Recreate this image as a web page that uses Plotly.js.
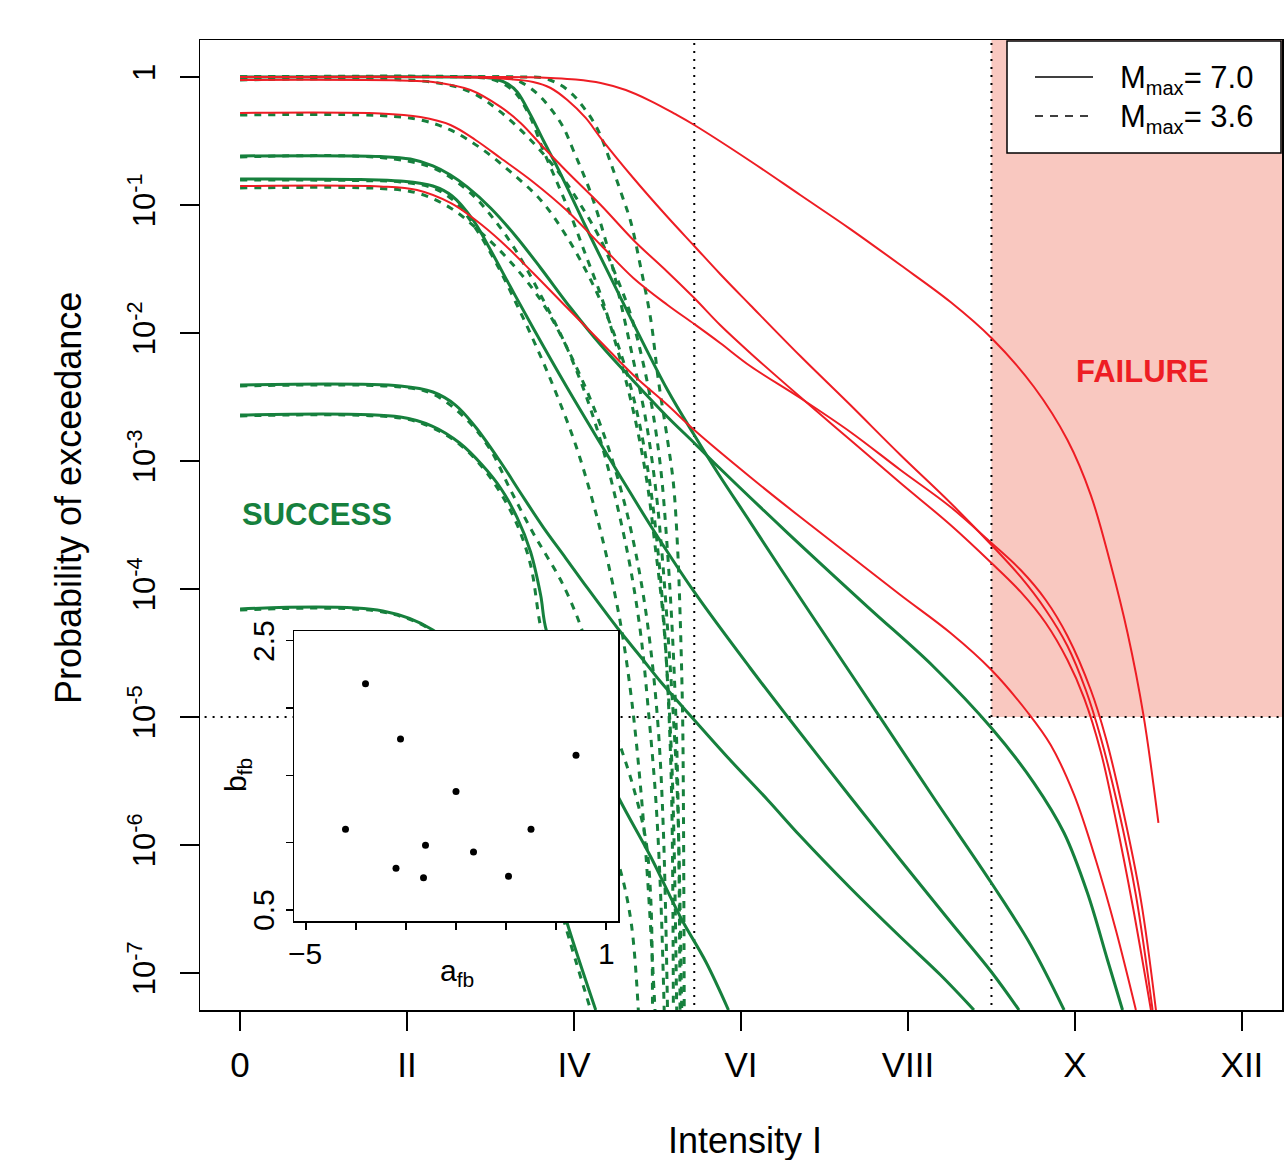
<!DOCTYPE html>
<html><head><meta charset="utf-8">
<script src="https://cdn.plot.ly/plotly-3.0.1.min.js"></script>
<style>body{margin:0;background:#fff}#chart{width:1284px;height:1160px}</style>
</head><body><div id="chart"></div>
<script>
// ---------- x ticks (Intensity, roman) ----------
const xTickVals = [0, 2, 4, 6, 8, 10, 12];
const xTickText = ['0', 'II', 'IV', 'VI', 'VIII', 'X', 'XII'];
const yTickExp = [-7, -6, -5, -4, -3, -2, -1, 0];

// ---------- reference lines ----------
const I_max36 = 5.44;   // dotted vertical (max intensity for Mmax 3.6)
const I_fail = 9.0;     // dotted vertical (failure intensity)
const P_fail = 1e-5;    // dotted horizontal (failure probability)

// ---------- Mmax = 7.0, failing (red) : intensity / log10 probability ----------
const ra_I = [0, 3.12, 3.48, 3.72, 4.02, 4.32, 4.62, 4.92, 5.21, 5.44, 6.11, 6.71, 7.31, 7.91, 8.51, 9.00, 9.51, 9.91, 10.19, 10.43, 10.63, 10.82, 11.00];
const ra_P = [0, 0, -0.002, -0.008, -0.020, -0.047, -0.102, -0.188, -0.289, -0.375, -0.656, -0.922, -1.188, -1.469, -1.758, -2.039, -2.422, -2.836, -3.266, -3.813, -4.344, -4.984, -5.828];
const rb_I = [0, 2.52, 3.12, 3.51, 3.72, 3.92, 4.14, 4.32, 4.71, 5.12, 5.44, 5.75, 6.11, 6.71, 7.31, 7.91, 8.51, 9.00, 9.35, 9.65, 9.91, 10.13, 10.31, 10.51, 10.73, 10.93];
const rb_P = [0, 0, -0.012, -0.039, -0.086, -0.180, -0.320, -0.477, -0.789, -1.094, -1.320, -1.539, -1.781, -2.180, -2.563, -2.953, -3.328, -3.656, -3.906, -4.164, -4.445, -4.789, -5.164, -5.688, -6.391, -7.289];
const rc_I = [0, 1.92, 2.31, 2.76, 3.12, 3.36, 3.63, 3.92, 4.32, 4.71, 5.12, 5.44, 5.75, 6.11, 6.71, 7.31, 7.91, 8.51, 9.00, 9.35, 9.65, 9.91, 10.11, 10.31, 10.49, 10.69, 10.91];
const rc_P = [-0.023, -0.027, -0.039, -0.102, -0.234, -0.359, -0.547, -0.742, -1.0, -1.273, -1.523, -1.727, -1.938, -2.156, -2.5, -2.836, -3.172, -3.5, -3.797, -4.023, -4.266, -4.555, -4.852, -5.273, -5.805, -6.469, -7.289];
const rd_I = [0, 1.68, 2.16, 2.52, 2.82, 3.12, 3.51, 3.92, 4.32, 4.71, 5.12, 5.44, 5.75, 6.11, 6.71, 7.31, 7.91, 8.51, 9.00, 9.35, 9.65, 9.91, 10.19, 10.37, 10.57, 10.79, 10.97];
const rd_P = [-0.281, -0.285, -0.313, -0.375, -0.492, -0.633, -0.820, -1.047, -1.313, -1.570, -1.781, -1.930, -2.078, -2.258, -2.508, -2.773, -3.070, -3.359, -3.641, -3.852, -4.086, -4.367, -4.789, -5.164, -5.711, -6.430, -7.289];
const re_I = [0, 1.68, 2.12, 2.52, 2.82, 3.12, 3.51, 3.92, 4.32, 4.71, 5.12, 5.44, 6.11, 6.71, 7.31, 7.91, 8.51, 9.00, 9.43, 9.71, 9.99, 10.25, 10.49, 10.73];
const re_P = [-0.852, -0.855, -0.883, -0.984, -1.117, -1.281, -1.531, -1.805, -2.070, -2.328, -2.563, -2.758, -3.125, -3.438, -3.742, -4.047, -4.344, -4.633, -4.961, -5.219, -5.609, -6.117, -6.664, -7.289];

// ---------- Mmax = 7.0, succeeding (green solid) ----------
const g1_I = [0, 2.76, 2.94, 3.08, 3.21, 3.32, 3.48, 3.63, 3.78, 3.92, 4.20, 4.50, 4.75, 5.12, 5.44, 5.73, 6.11, 6.47, 7.11, 7.64, 8.31, 9.00, 9.47, 9.87];
const g1_P = [0, 0, -0.004, -0.020, -0.055, -0.117, -0.297, -0.492, -0.680, -0.867, -1.250, -1.648, -1.977, -2.445, -2.797, -3.102, -3.477, -3.836, -4.461, -4.977, -5.633, -6.297, -6.781, -7.289];
const g2_I = [0, 1.68, 2.04, 2.31, 2.52, 2.72, 3.00, 3.30, 3.60, 3.96, 4.32, 4.68, 5.12, 5.44, 5.73, 6.56, 7.52, 8.31, 9.00, 9.51, 9.87, 10.15, 10.39, 10.57];
const g2_P = [-0.617, -0.621, -0.641, -0.695, -0.766, -0.859, -1.023, -1.242, -1.492, -1.805, -2.094, -2.352, -2.656, -2.859, -3.047, -3.563, -4.141, -4.609, -5.086, -5.516, -5.906, -6.375, -6.898, -7.289];
const g3_I = [0, 1.44, 1.92, 2.31, 2.54, 2.79, 3.00, 3.24, 3.51, 3.92, 4.32, 4.64, 4.95, 5.44, 6.11, 6.56, 7.31, 7.91, 8.51, 9.00, 9.33];
const g3_P = [-0.797, -0.801, -0.813, -0.852, -0.930, -1.117, -1.352, -1.641, -1.961, -2.430, -2.867, -3.211, -3.539, -4.023, -4.617, -5.0, -5.625, -6.117, -6.602, -6.992, -7.289];
const g4_I = [0, 1.92, 2.31, 2.58, 2.82, 3.12, 3.36, 3.63, 3.90, 4.16, 4.52, 4.80, 5.04, 5.44, 5.87, 6.32, 6.71, 7.31, 7.91, 8.39, 8.79];
const g4_P = [-2.406, -2.414, -2.461, -2.563, -2.734, -3.008, -3.250, -3.516, -3.758, -3.992, -4.305, -4.531, -4.727, -5.023, -5.336, -5.648, -5.930, -6.336, -6.719, -7.016, -7.289];
const g5_I = [0, 1.92, 2.30, 2.63, 2.90, 3.12, 3.32, 3.48, 3.60, 3.67, 4.08, 4.53, 4.92, 5.28, 5.58, 5.85];
const g5_P = [-2.641, -2.656, -2.727, -2.859, -3.031, -3.211, -3.445, -3.711, -4.047, -4.328, -5.008, -5.625, -6.094, -6.570, -6.914, -7.289];
const g6_I = [0, 1.71, 2.31, 2.76, 3.18, 3.60, 3.91, 4.26];
const g6_P = [-4.156, -4.172, -4.320, -4.594, -5.102, -5.883, -6.594, -7.289];

// ---------- Mmax = 3.6 (green dashed), one per parameter set ----------
const rad_I = [0, 3.36, 3.63, 3.84, 3.99, 4.11, 4.22, 4.32, 4.44, 4.56, 4.68, 4.80, 4.92, 5.01, 5.12, 5.19, 5.24, 5.27, 5.30, 5.31, 5.32];
const rad_P = [0, 0, -0.008, -0.063, -0.141, -0.234, -0.336, -0.461, -0.672, -0.898, -1.133, -1.492, -1.898, -2.367, -2.836, -3.172, -3.672, -4.188, -4.969, -5.648, -7.289];
const rbd_I = [0, 2.88, 3.24, 3.44, 3.60, 3.75, 3.87, 3.99, 4.20, 4.40, 4.56, 4.71, 4.86, 4.98, 5.06, 5.13, 5.19, 5.24, 5.29];
const rbd_P = [0, 0, -0.008, -0.070, -0.156, -0.273, -0.391, -0.570, -0.906, -1.328, -1.766, -2.211, -2.680, -3.227, -3.773, -4.398, -5.0, -5.648, -7.289];
const rcd_I = [0, 2.28, 2.76, 3.12, 3.48, 3.84, 4.08, 4.32, 4.50, 4.68, 4.82, 4.94, 5.04, 5.11, 5.17, 5.22, 5.25, 5.27];
const rcd_P = [-0.023, -0.039, -0.117, -0.273, -0.492, -0.766, -1.0, -1.273, -1.547, -1.859, -2.211, -2.602, -3.070, -3.617, -4.242, -5.0, -5.805, -7.289];
const rdd_I = [0, 1.68, 2.16, 2.52, 2.88, 3.24, 3.60, 3.90, 4.20, 4.44, 4.64, 4.80, 4.92, 5.01, 5.08, 5.13, 5.17, 5.19];
const rdd_P = [-0.297, -0.301, -0.336, -0.414, -0.555, -0.742, -0.961, -1.234, -1.586, -1.938, -2.328, -2.758, -3.227, -3.734, -4.281, -4.867, -5.648, -7.289];
const red_I = [0, 1.68, 2.12, 2.52, 2.88, 3.24, 3.60, 3.90, 4.20, 4.44, 4.64, 4.80, 4.92, 5.01, 5.07, 5.12];
const red_P = [-0.867, -0.871, -0.906, -1.023, -1.211, -1.445, -1.742, -2.094, -2.523, -2.953, -3.422, -3.930, -4.477, -5.102, -5.883, -7.289];
const g1d_I = [0, 2.76, 3.00, 3.18, 3.32, 3.48, 3.63, 3.80, 3.96, 4.14, 4.32, 4.47, 4.62, 4.76, 4.88, 4.97, 5.06, 5.12, 5.17, 5.20, 5.23];
const g1d_P = [0, 0, -0.016, -0.063, -0.141, -0.320, -0.570, -0.828, -1.078, -1.391, -1.703, -2.016, -2.367, -2.758, -3.188, -3.656, -4.164, -4.711, -5.336, -6.039, -7.289];
const g2d_I = [0, 1.68, 2.31, 2.72, 3.00, 3.30, 3.60, 3.90, 4.14, 4.35, 4.53, 4.68, 4.80, 4.89, 4.98, 5.04, 5.08];
const g2d_P = [-0.625, -0.629, -0.711, -0.883, -1.078, -1.352, -1.703, -2.094, -2.484, -2.914, -3.383, -3.852, -4.359, -4.945, -5.648, -6.430, -7.289];
const g3d_I = [0, 1.44, 1.92, 2.31, 2.58, 2.82, 3.06, 3.30, 3.54, 3.78, 4.02, 4.22, 4.40, 4.56, 4.69, 4.80, 4.89, 4.97];
const g3d_P = [-0.805, -0.809, -0.820, -0.867, -0.977, -1.180, -1.445, -1.758, -2.094, -2.461, -2.875, -3.305, -3.773, -4.281, -4.867, -5.570, -6.352, -7.289];
const g4d_I = [0, 1.92, 2.31, 2.72, 3.00, 3.24, 3.51, 3.68, 3.84, 3.99, 4.10, 4.32, 4.53, 4.71, 4.86, 4.92, 4.94];
const g4d_P = [-2.414, -2.422, -2.477, -2.680, -2.914, -3.227, -3.563, -3.750, -3.930, -4.141, -4.328, -4.789, -5.180, -5.547, -5.961, -6.430, -7.289];
const g5d_I = [0, 1.92, 2.31, 2.64, 2.91, 3.12, 3.32, 3.48, 3.61, 3.84, 4.20, 4.53, 4.68, 4.77];
const g5d_P = [-2.648, -2.664, -2.742, -2.875, -3.055, -3.25, -3.5, -3.813, -4.328, -4.867, -5.570, -6.141, -6.586, -7.289];
const g6d_I = [0, 1.71, 2.31, 2.76, 3.18, 3.60, 3.88, 4.20];
const g6d_P = [-4.164, -4.180, -4.328, -4.617, -5.141, -5.922, -6.594, -7.289];

// ---------- inset: fragility-curve parameters ----------
const a_fb = [-3.81, -3.11, 0.40, -2.00, -4.21, -0.50, -2.61, -1.65, -3.20, -2.65, -0.95];
const b_fb = [2.18, 1.77, 1.65, 1.38, 1.10, 1.10, 0.98, 0.93, 0.81, 0.74, 0.75];
const insetXTicks = [-5, -4, -3, -2, -1, 0, 1];
const insetYTicks = [0.5, 1.0, 1.5, 2.0, 2.5];
const insetXLabels = ['\u22125', '1'];      // labelled ticks -5 and 1
const insetYLabels = ['0.5', '2.5'];        // labelled ticks 0.5 and 2.5

// ---------- styles ----------
const RED = '#EE1D24', GREEN = '#16803D', PINK = '#F9C8C0';
const FONT = 'Liberation Sans, Arial, Helvetica, sans-serif';

const toP = arr => arr.map(v => Math.pow(10, v));
function curve(I, P, color, width, dash) {
  return {x: I, y: toP(P), type: 'scatter', mode: 'lines', xaxis: 'x', yaxis: 'y', hoverinfo: 'skip',
          line: {color: color, width: width, dash: dash, shape: 'spline', smoothing: 1}};
}
const DASH = '7px,7px';
const traces = [];
const DOT = {color: '#000', width: 2, dash: '2px,6px'};
traces.push({x: [I_max36, I_max36], y: [1e-8, 10], mode: 'lines', line: DOT, hoverinfo: 'skip'});
traces.push({x: [I_fail, I_fail], y: [1e-8, 10], mode: 'lines', line: DOT, hoverinfo: 'skip'});
traces.push({x: [-1, 13], y: [P_fail, P_fail], mode: 'lines', line: DOT, hoverinfo: 'skip'});
[[rad_I, rad_P], [rbd_I, rbd_P], [rcd_I, rcd_P], [rdd_I, rdd_P], [red_I, red_P],
 [g1d_I, g1d_P], [g2d_I, g2d_P], [g3d_I, g3d_P], [g4d_I, g4d_P], [g5d_I, g5d_P], [g6d_I, g6d_P]]
  .forEach(c => traces.push(curve(c[0], c[1], GREEN, 3, DASH)));
[[g1_I, g1_P], [g2_I, g2_P], [g3_I, g3_P], [g4_I, g4_P], [g5_I, g5_P], [g6_I, g6_P]]
  .forEach(c => traces.push(curve(c[0], c[1], GREEN, 3, 'solid')));
[[ra_I, ra_P], [rb_I, rb_P], [rc_I, rc_P], [rd_I, rd_P], [re_I, re_P]]
  .forEach(c => traces.push(curve(c[0], c[1], RED, 2, 'solid')));
traces.push({x: a_fb, y: b_fb, xaxis: 'x2', yaxis: 'y2', type: 'scatter', mode: 'markers',
             marker: {color: '#000', size: 7}, hoverinfo: 'skip'});

// pixel -> paper helpers for decorations (plot area 200..1282 x 40..1010)
const X = px => (px - 200) / 1082;
const Y = py => (1010 - py) / 970;

const ann = (text, px, py, size, extra) => Object.assign({
  text: text, xref: 'paper', yref: 'paper', x: X(px), y: Y(py), xanchor: 'center', yanchor: 'middle',
  showarrow: false, font: {family: FONT, size: size, color: '#000'}}, extra || {});

const SUBMAX = 'M<sub><span style="font-size:20px">max</span></sub>= ';

const layout = {
  width: 1284, height: 1160,
  margin: {l: 200, r: 2, t: 40, b: 150, pad: 0},
  paper_bgcolor: '#fff', plot_bgcolor: '#fff',
  showlegend: false,
  font: {family: FONT, color: '#000'},
  xaxis: {range: [-0.48, 12.48], tickvals: xTickVals, ticktext: xTickText, ticks: 'outside', ticklen: 19,
          tickwidth: 1.5, tickcolor: '#000', showline: true, mirror: true, linewidth: 1.5, linecolor: '#000',
          showgrid: false, zeroline: false, tickfont: {size: 35, family: FONT}, ticklabelstandoff: 4},
  yaxis: {type: 'log', range: [-7.289, 0.289], tickvals: yTickExp.map(e => Math.pow(10, e)),
          ticktext: yTickExp.map(e => e === 0 ? '1' : '10<sup>' + e + '</sup>'), tickangle: -90,
          ticks: 'outside', ticklen: 19, tickwidth: 1.5, tickcolor: '#000', showline: true, mirror: true,
          linewidth: 1.5, linecolor: '#000', showgrid: false, zeroline: false,
          tickfont: {size: 31, family: FONT}, ticklabelstandoff: 12},
  xaxis2: {domain: [X(294), X(618)], anchor: 'y2', range: [-5.24, 1.24], tickvals: insetXTicks,
           showticklabels: false, ticks: 'outside', ticklen: 7, tickwidth: 1.5, tickcolor: '#000',
           showline: true, mirror: true, linewidth: 1.5, linecolor: '#000', showgrid: false, zeroline: false},
  yaxis2: {domain: [Y(921), Y(631)], anchor: 'x2', range: [0.418, 2.572], tickvals: insetYTicks,
           showticklabels: false, ticks: 'outside', ticklen: 7, tickwidth: 1.5, tickcolor: '#000',
           showline: true, mirror: true, linewidth: 1.5, linecolor: '#000', showgrid: false, zeroline: false},
  shapes: [
    {type: 'rect', xref: 'x', yref: 'y', x0: I_fail, x1: 13, y0: P_fail, y1: 10, fillcolor: PINK,
     line: {width: 0}, layer: 'below'},
    {type: 'rect', xref: 'paper', yref: 'paper', x0: X(1007), x1: X(1281), y0: Y(153), y1: Y(41),
     fillcolor: '#fff', line: {color: '#000', width: 1.5}, layer: 'above'},
    {type: 'line', xref: 'paper', yref: 'paper', x0: X(1035), x1: X(1093), y0: Y(77), y1: Y(77),
     line: {color: '#000', width: 1.5}, layer: 'above'},
    {type: 'line', xref: 'paper', yref: 'paper', x0: X(1035), x1: X(1093), y0: Y(116), y1: Y(116),
     line: {color: '#000', width: 1.5, dash: '8px,7px'}, layer: 'above'}
  ],
  annotations: [
    ann('Intensity I', 745, 1140, 36),
    ann('Probability of exceedance', 68, 498, 36, {textangle: -90}),
    ann('<b>SUCCESS</b>', 317, 514, 31, {font: {family: FONT, size: 31, color: GREEN}}),
    ann('<b>FAILURE</b>', 1142, 371, 31, {font: {family: FONT, size: 31, color: RED}}),
    ann(insetXLabels[0], 305, 953, 30),
    ann(insetXLabels[1], 606, 953, 30),
    ann(insetYLabels[0], 263, 910, 30, {textangle: -90}),
    ann(insetYLabels[1], 263, 641, 30, {textangle: -90}),
    ann('a<sub>fb</sub>', 457, 972, 30),
    ann('b<sub>fb</sub>', 237, 775, 30, {textangle: -90}),
    ann(SUBMAX + '7.0', 1118, 80, 31, {xanchor: 'left'}),
    ann(SUBMAX + '3.6', 1118, 118, 31, {xanchor: 'left'})
  ]
};

Plotly.newPlot('chart', traces, layout, {displayModeBar: false, staticPlot: true});
</script></body></html>
